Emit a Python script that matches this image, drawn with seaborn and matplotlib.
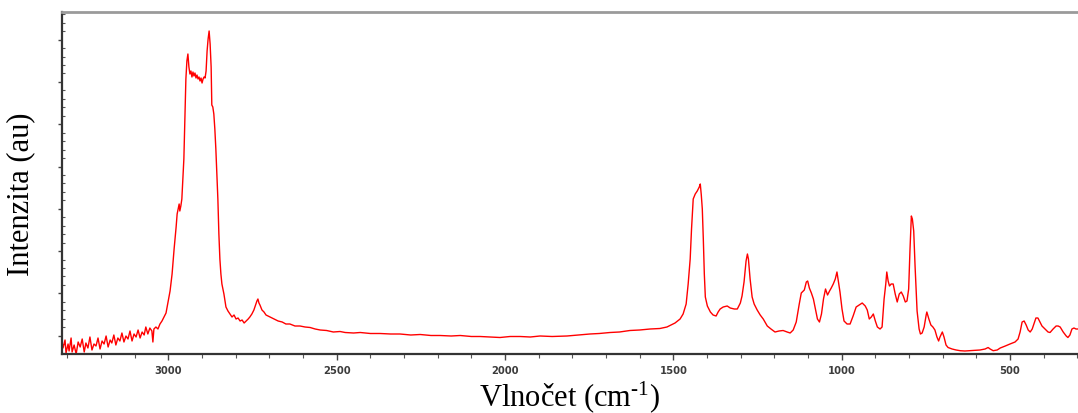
import numpy as np
import pandas as pd
import matplotlib
matplotlib.use("Agg")
import matplotlib.pyplot as plt
from matplotlib.ticker import MultipleLocator, FixedLocator, NullFormatter
import seaborn as sns

# Raman spectrum (intensity in arbitrary units)
wavenumber = [
    3313, 3307, 3304, 3298, 3295, 3289, 3286, 3280, 3274, 3268, 3262, 3256, 3250, 3245,
    3239, 3233, 3227, 3221, 3215, 3209, 3203, 3197, 3191, 3185, 3179, 3173, 3168, 3162,
    3156, 3150, 3144, 3138, 3132, 3126, 3120, 3114, 3108, 3102, 3096, 3090, 3084, 3078,
    3072, 3067, 3061, 3055, 3049, 3046, 3043, 3037, 3031, 3025, 3019, 3013, 3007, 3001,
    2995, 2989, 2983, 2977, 2974, 2971, 2968, 2966, 2963, 2960, 2957, 2954, 2951, 2948,
    2945, 2942, 2939, 2936, 2933, 2930, 2927, 2924, 2921, 2918, 2915, 2912, 2909, 2906,
    2903, 2900, 2897, 2894, 2891, 2888, 2885, 2882, 2879, 2876, 2873, 2871, 2868, 2865,
    2862, 2859, 2856, 2853, 2850, 2847, 2844, 2841, 2835, 2829, 2823, 2817, 2811, 2805,
    2799, 2793, 2787, 2781, 2775, 2769, 2763, 2758, 2752, 2746, 2740, 2737, 2734, 2731,
    2728, 2722, 2716, 2710, 2704, 2698, 2686, 2674, 2662, 2651, 2639, 2624, 2609, 2594,
    2579, 2564, 2549, 2530, 2510, 2490, 2475, 2450, 2430, 2400, 2371, 2340, 2312, 2280,
    2252, 2220, 2193, 2160, 2133, 2100, 2074, 2045, 2015, 1985, 1955, 1925, 1896, 1860,
    1816, 1780, 1748, 1720, 1688, 1660, 1629, 1600, 1569, 1540, 1519, 1495, 1480, 1471,
    1462, 1456, 1450, 1446, 1441,
    1435, 1429, 1423, 1420, 1417, 1414, 1411, 1408, 1405, 1399, 1390, 1382, 1373, 1367,
    1361, 1352, 1340, 1331, 1319, 1310, 1301, 1296, 1290, 1284, 1280, 1277, 1272, 1266,
    1260, 1251, 1242, 1233, 1221, 1210, 1198, 1186, 1174, 1162, 1153, 1144, 1135, 1126,
    1120, 1111, 1105, 1101, 1096, 1090, 1084, 1078, 1072, 1066, 1060, 1054, 1048, 1042,
    1036, 1031, 1025, 1019, 1014, 1010, 1005, 999, 993, 984, 975, 966, 957, 948,
    939, 930, 924, 918, 912, 906, 900, 894, 886, 880, 874, 869, 866, 862,
    858, 853, 847, 841, 835, 829, 823, 817, 811, 806, 801, 797, 793, 790,
    786, 782, 776, 770, 766, 761, 755, 749, 747, 741, 735, 729, 723, 717,
    712, 708, 701, 696, 690, 684, 672, 660, 648, 634, 619, 604, 589, 574,
    565, 559, 550, 538, 529, 514, 500, 485, 476, 470, 464, 458, 452, 446,
    440, 434, 429, 423, 417, 411, 405, 396, 387, 381, 372, 363, 357, 351,
    342, 333, 328, 322, 316, 310, 304, 298,
]
intensity = [
    6, 14, 1, 10, 3, 16, 2, 9, 0, 12, 7, 15, 2, 11,
    6, 17, 4, 10, 8, 16, 5, 13, 10, 18, 7, 14, 11, 19,
    9, 16, 13, 21, 12, 18, 15, 23, 13, 20, 17, 24, 16, 22,
    19, 27, 20, 26, 23, 12, 25, 27, 25, 30, 33, 37, 41, 52,
    63, 80, 105, 127, 140, 145, 150, 143, 148, 155, 175, 195, 235, 275,
    293, 300, 287, 280, 283, 277, 282, 278, 281, 276, 279, 275, 277, 273,
    276, 271, 275, 277, 276, 283, 303, 315, 323, 310, 287, 249, 247, 240,
    225, 205, 180, 155, 120, 95, 80, 70, 60, 47, 43, 40, 37, 39,
    35, 36, 33, 34, 31, 33, 35, 37, 40, 44, 50, 53, 55, 51,
    49, 44, 42, 39, 38, 37, 35, 33, 32, 30, 30, 28, 28, 27,
    26.5, 25, 24, 23.5, 22, 22.5, 21.5, 21, 21.5, 20.5, 20.5, 20, 20, 19,
    19.5, 18.5, 18.5, 18, 18.5, 17.5, 17.5, 17, 16.5, 17.5, 17.5, 17, 18, 17.5,
    18, 19, 20, 20.5, 21.5, 22, 23.5, 24, 25, 25.5, 27, 31, 35, 40,
    50, 70, 95, 125, 155,
    160, 163, 167, 170, 159, 145, 115, 80, 57, 48, 42, 39, 38, 42,
    45, 47, 48, 46, 45, 45, 51, 58, 72, 93, 100, 95, 75, 57,
    50, 44, 39, 35, 28, 25, 22, 23, 23.5, 22, 21, 24, 32, 50,
    61, 64, 72, 73, 66, 61, 55, 45, 35, 32, 40, 55, 65, 59,
    63, 66, 70, 75, 82, 73, 62, 45, 33, 30, 30, 38, 47, 49,
    51, 48, 44, 35, 37, 40, 33, 27, 25, 27, 55, 70, 82, 73,
    68, 70, 70, 60, 52, 60, 62, 58, 52, 53, 65, 105, 138, 135,
    123, 88, 43, 25, 20, 21, 27, 39, 42, 35, 29, 27, 24, 17,
    13, 17, 22, 17, 9, 6.5, 5, 4, 3.3, 3, 3.3, 3.5, 4, 5,
    6.5, 5, 3.3, 4, 6, 8, 10, 12, 15, 22, 32, 33, 29, 24,
    22, 25, 30, 36, 36, 32, 28, 25, 22, 21.5, 25, 28, 28, 27,
    22, 18, 16.5, 19, 25, 26, 25, 25,
]
x_ticks = [3000, 2500, 2000, 1500, 1000, 500]
x_label = "Vlnočet (cm$^{\\text{-1}}$)"
y_label = "Intenzita (au)"

df = pd.DataFrame({"wavenumber": wavenumber, "intensity": intensity})

sns.set_theme(style="white")
plt.rcParams["font.family"] = ["DejaVu Sans"]
plt.rcParams["mathtext.fontset"] = "custom"
plt.rcParams["mathtext.rm"] = "Liberation Serif"
plt.rcParams["mathtext.it"] = "Liberation Serif:italic"
plt.rcParams["mathtext.default"] = "rm"

fig = plt.figure(figsize=(10.78, 4.14), dpi=100)
ax = fig.add_axes([62 / 1078, 59 / 414, 1 - 62 / 1078, 342 / 414])

sns.lineplot(data=df, x="wavenumber", y="intensity", sort=False, estimator=None,
             color="#ff0000", linewidth=1.0, ax=ax)

ax.set_xlim(3316, 298)
ax.set_ylim(0, 342)

ax.xaxis.set_major_locator(FixedLocator(x_ticks))
ax.xaxis.set_minor_locator(MultipleLocator(100))
ax.yaxis.set_major_locator(MultipleLocator(42.3, offset=18.3))
ax.yaxis.set_minor_locator(MultipleLocator(8.46, offset=18.3))
ax.yaxis.set_major_formatter(NullFormatter())

ax.tick_params(axis="x", which="major", direction="out", length=4, width=1,
               color="#444444", labelsize=7.2, labelcolor="#3c3c3c", pad=4, bottom=True)
ax.tick_params(axis="x", which="minor", direction="out", length=3, width=0.8,
               color="#555555", bottom=True)
ax.tick_params(axis="y", which="major", direction="out", length=3, width=1,
               color="#444444", left=True)
ax.tick_params(axis="y", which="minor", direction="in", length=2, width=0.8,
               color="#555555", left=True)
for lbl in ax.get_xticklabels():
    lbl.set_fontweight("semibold")

for side in ["left", "bottom"]:
    ax.spines[side].set_color("#333333")
    ax.spines[side].set_linewidth(1.6)
ax.spines["top"].set_color("#9a9a9a")
ax.spines["top"].set_linewidth(2.0)
ax.spines["right"].set_visible(False)

ax.set_xlabel(x_label, fontsize=22, family="Liberation Serif", color="black")
ax.set_ylabel(y_label, fontsize=22, family="Liberation Serif", color="black")
ax.xaxis.set_label_coords(0.5, -0.07)
ax.yaxis.set_label_coords(-0.026, 0.47)

fig.savefig("out.png", dpi=100)
